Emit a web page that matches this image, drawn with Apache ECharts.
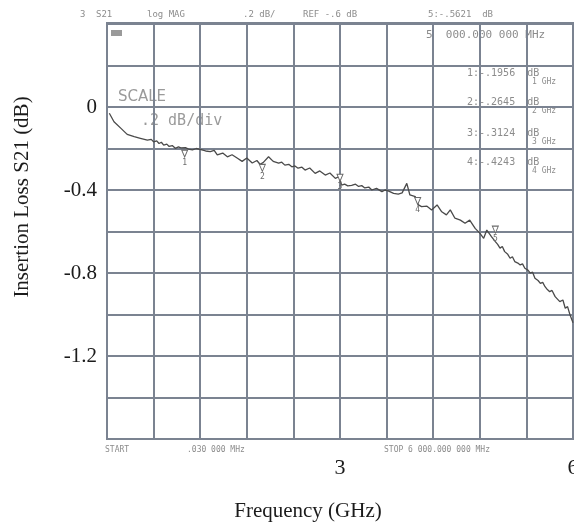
<!DOCTYPE html>
<html>
  <head>
    <meta charset="utf-8" />
    <title>Insertion Loss S21</title>
    <script src="https://cdn.jsdelivr.net/npm/echarts@6/dist/echarts.min.js"></script>
    <style>
      body { margin: 0; background: #fff; }
      #main { width: 574px; height: 525px; }
    </style>
  </head>
  <body>
    <div id="main"></div>
    <script>
      // trace
      var freqGHz = [0.03, 0.09, 0.18, 0.26, 0.35, 0.43, 0.52, 0.57, 0.60, 0.64, 0.67, 0.70, 0.73, 0.77, 0.80, 0.84, 0.88, 0.92, 0.95, 1.01,
        1.05, 1.10, 1.15, 1.21, 1.27, 1.33, 1.38, 1.42, 1.49, 1.55, 1.61, 1.68, 1.74, 1.80, 1.87, 1.93, 1.97, 2.01, 2.08, 2.14, 2.21,
        2.25, 2.29, 2.34, 2.38, 2.42, 2.46, 2.51, 2.55, 2.61, 2.68, 2.74, 2.81, 2.87, 2.94, 2.99, 3.02, 3.06, 3.10, 3.15, 3.20, 3.24, 3.28, 3.32,
        3.37, 3.41, 3.47, 3.54, 3.58, 3.62, 3.69, 3.75, 3.80, 3.86, 3.90, 3.97, 4.01, 4.05, 4.12, 4.18, 4.25, 4.31,
        4.37, 4.42, 4.48, 4.55, 4.61, 4.67, 4.74, 4.80, 4.85, 4.89, 4.95, 5.00, 5.03, 5.06, 5.09, 5.12, 5.16, 5.19, 5.22, 5.25,
        5.29, 5.32, 5.35, 5.38, 5.42, 5.45, 5.48, 5.51, 5.55, 5.58, 5.61, 5.64, 5.67, 5.70, 5.73, 5.77, 5.80, 5.83, 5.87, 5.90, 5.93, 5.96, 6.00];
      var lossDb = [-0.030, -0.071, -0.103, -0.132, -0.143, -0.151, -0.160, -0.156, -0.168, -0.163, -0.176, -0.170, -0.184, -0.179, -0.190, -0.186, -0.199, -0.192, -0.197, -0.196,
        -0.203, -0.207, -0.200, -0.206, -0.212, -0.215, -0.209, -0.231, -0.222, -0.240, -0.230, -0.247, -0.262, -0.246, -0.270, -0.258, -0.276, -0.268, -0.240, -0.262, -0.271,
        -0.266, -0.280, -0.276, -0.288, -0.284, -0.295, -0.290, -0.304, -0.294, -0.320, -0.308, -0.328, -0.318, -0.344, -0.335, -0.376, -0.372, -0.380, -0.378, -0.372, -0.383, -0.379, -0.390,
        -0.386, -0.400, -0.392, -0.408, -0.400, -0.404, -0.416, -0.420, -0.414, -0.368, -0.424, -0.432, -0.472, -0.480, -0.478, -0.496, -0.472, -0.505,
        -0.520, -0.496, -0.536, -0.545, -0.560, -0.545, -0.585, -0.608, -0.633, -0.593, -0.625, -0.649, -0.662, -0.680, -0.672, -0.697, -0.710, -0.729, -0.722, -0.745,
        -0.752, -0.761, -0.756, -0.777, -0.786, -0.801, -0.796, -0.825, -0.836, -0.850, -0.845, -0.866, -0.880, -0.890, -0.884, -0.914, -0.926, -0.938, -0.930, -0.970, -0.962, -1.000, -1.040];

      // analyzer markers
      var markerNo = ['1', '2', '3', '4', '5'];
      var markerFreq = [1, 2, 3, 4, 5];
      var markerVal = [-0.1956, -0.2645, -0.3124, -0.4243, -0.5621];

      // tick labels that are printed
      var xTickLabels = [3, 6];
      var yTickLabels = [0, -0.4, -0.8, -1.2];

      var gridColor = '#7b8391';
      var scopeText = '#8c8c8c';
      var mono = '"DejaVu Sans Mono", monospace';
      var serif = '"Liberation Serif", "DejaVu Serif", serif';

      function hasTick(list, v) {
        for (var i = 0; i < list.length; i++) {
          if (Math.abs(list[i] - v) < 1e-6) return true;
        }
        return false;
      }

      var points = freqGHz.map(function (f, i) { return [f, lossDb[i]]; });
      var marks = markerFreq.map(function (f, i) {
        return { coord: [f, markerVal[i]], value: markerNo[i] };
      });

      function txt(s, x, y, size, color, font, align) {
        return {
          type: 'text', x: x, y: y, silent: true,
          style: { text: s, fontSize: size, fontFamily: font || mono, fill: color || scopeText,
            align: align || 'left', verticalAlign: 'middle' }
        };
      }

      var myChart = echarts.init(document.getElementById('main'));
      var option = {
        animation: false,
        grid: { left: 107, right: 1, top: 24, bottom: 86, containLabel: false, outerBoundsMode: 'none' },
        xAxis: {
          type: 'value', min: 0, max: 6, interval: 0.6,
          axisLine: { lineStyle: { color: gridColor, width: 2 } },
          axisTick: { show: false },
          splitLine: { lineStyle: { color: gridColor, width: 2 } },
          axisLabel: {
            margin: 18, fontSize: 22, fontFamily: serif, color: '#1b1b1b', hideOverlap: false,
            formatter: function (v) { return hasTick(xTickLabels, v) ? String(Math.round(v)) : ''; }
          }
        },
        yAxis: {
          type: 'value', min: -1.6, max: 0.4, interval: 0.2,
          axisLine: { show: true, lineStyle: { color: gridColor, width: 2 } },
          axisTick: { show: false },
          splitLine: { lineStyle: { color: gridColor, width: 2 } },
          axisLabel: {
            margin: 10, fontSize: 21, fontFamily: serif, color: '#1b1b1b',
            formatter: function (v) {
              if (!hasTick(yTickLabels, v)) return '';
              return Math.abs(v) < 1e-9 ? '0' : v.toFixed(1);
            }
          }
        },
        graphic: [
          { type: 'rect', shape: { x: 107, y: 23, width: 466, height: 416 }, silent: true,
            style: { fill: 'none', stroke: gridColor, lineWidth: 2 } },
          txt('Insertion Loss S21 (dB)', 0, 0, 21, '#1b1b1b', serif, 'center'),
          txt('Frequency (GHz)', 308, 511, 21, '#1b1b1b', serif, 'center'),
          // analyzer annotations
          txt('3', 80, 15, 9), txt('S21', 96, 15, 9), txt('log MAG', 147, 15, 9),
          txt('.2 dB/', 243, 15, 9), txt('REF -.6 dB', 303, 15, 9), txt('5:-.5621  dB', 428, 15, 9),
          { type: 'rect', shape: { x: 111, y: 30, width: 11, height: 6 }, silent: true, style: { fill: '#9a9a9a' } },
          txt('5  000.000 000 MHz', 426, 35, 11),
          txt('1:-.1956  dB', 467, 73, 10), txt('1 GHz', 532, 82, 8),
          txt('2:-.2645  dB', 467, 102, 10), txt('2 GHz', 532, 111, 8),
          txt('3:-.3124  dB', 467, 133, 10), txt('3 GHz', 532, 142, 8),
          txt('4:-.4243  dB', 467, 162, 10), txt('4 GHz', 532, 171, 8),
          txt('SCALE', 118, 97, 15, '#9a9a9a', 'DejaVu Sans, sans-serif'),
          txt('.2 dB/div', 141, 121, 15, '#9a9a9a', mono),
          txt('START', 105, 450, 8), txt('.030 000 MHz', 187, 450, 8),
          txt('STOP 6 000.000 000 MHz', 384, 450, 8)
        ],
        series: [{
          type: 'line',
          data: points,
          showSymbol: false,
          lineStyle: { color: '#4a4a4a', width: 1.3 },
          markPoint: {
            symbol: 'path://M0,0 L10,0 L5,10 Z',
            symbolSize: [6, 7],
            symbolOffset: [0, 6],
            itemStyle: { color: '#fff', borderColor: '#6a6a6a', borderWidth: 1 },
            label: { show: true, position: 'bottom', distance: 1, fontSize: 8, fontFamily: mono, color: '#6a6a6a',
              formatter: function (p) { return p.value; } },
            data: marks
          }
        }]
      };
      myChart.setOption(option);
      // rotated y title
      myChart.setOption({ graphic: [{}, { x: 22, y: 197, rotation: Math.PI / 2 }] });
    </script>
  </body>
</html>
